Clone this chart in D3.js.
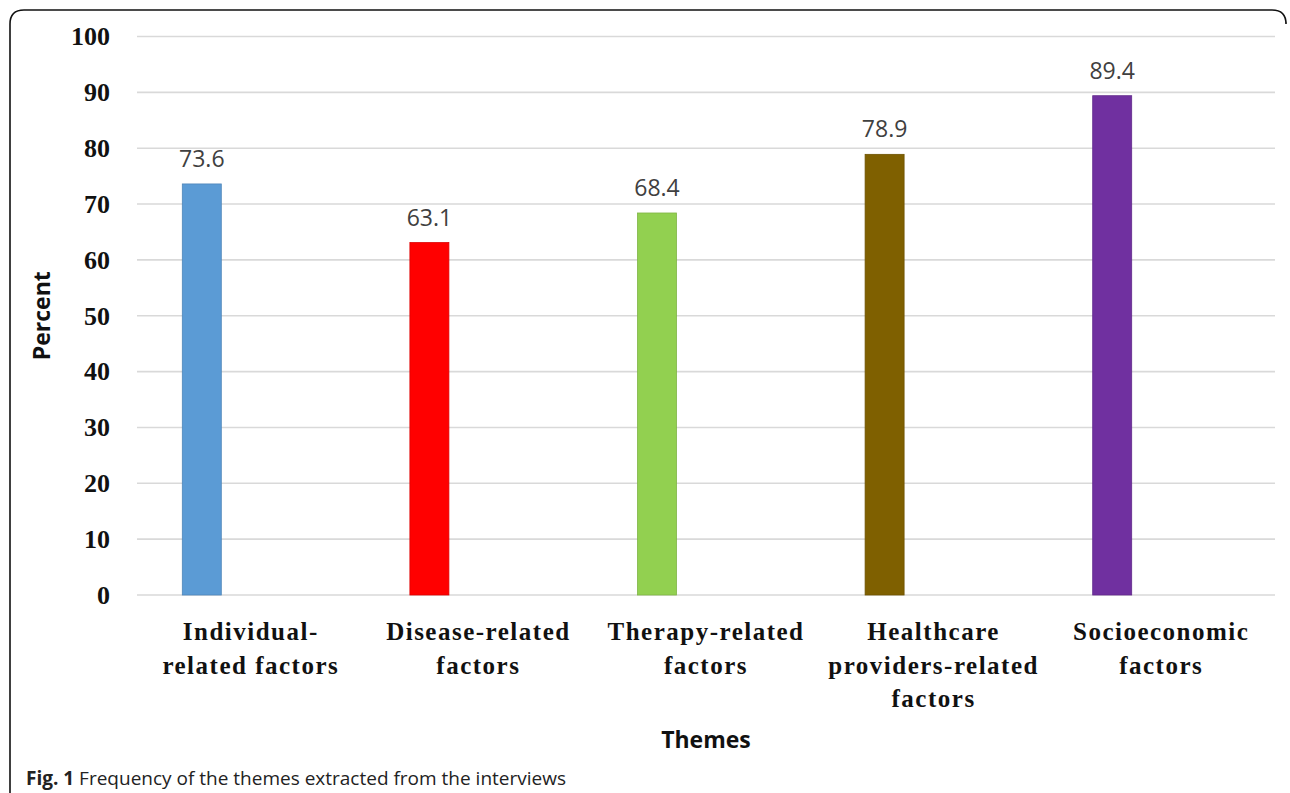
<!DOCTYPE html>
<html>
<head>
<meta charset="utf-8">
<script src="https://cdn.jsdelivr.net/npm/d3@7"></script>
<style>
  html, body { margin: 0; padding: 0; background: #fff; }
  svg { display: block; }
</style>
</head>
<body>
<div id="chart"></div>
<script>
// data
const categories = ["Individual-related factors", "Disease-related factors", "Therapy-related factors",
                    "Healthcare providers-related factors", "Socioeconomic factors"];
const percents = [73.6, 63.1, 68.4, 78.9, 89.4];
const barColors = ["#5b9bd5", "#ff0000", "#92d050", "#7f6000", "#7030a0"];
const labelLines = [
  ["Individual-", "related factors"],
  ["Disease-related", "factors"],
  ["Therapy-related", "factors"],
  ["Healthcare", "providers-related", "factors"],
  ["Socioeconomic", "factors"]
];
const yTicks = [0, 10, 20, 30, 40, 50, 60, 70, 80, 90, 100];

const W = 1290, H = 793;
const plot = {left: 137, right: 1275, top: 36.5, bottom: 595};
const barWidth = 39, barShift = -49;

const svg = d3.select("#chart").append("svg")
  .attr("width", W)
  .attr("height", H);

// outer frame (rounded top corners, cut off at the bottom)
const r = 14;
svg.append("path")
  .attr("d", `M10,${H} L10,${10 + r} Q10,10 ${10 + r},10 L${1286 - r},10 Q1286,10 1286,${10 + r} L1286,22`)
  .attr("fill", "none")
  .attr("stroke", "#111")
  .attr("stroke-width", 1.6);

const x = d3.scaleBand()
  .domain(categories)
  .range([plot.left, plot.right]);

const y = d3.scaleLinear()
  .domain([0, 100])
  .range([plot.bottom, plot.top]);

// gridlines
svg.append("g")
  .selectAll("line")
  .data(yTicks)
  .join("line")
    .attr("x1", plot.left)
    .attr("x2", plot.right)
    .attr("y1", d => y(d))
    .attr("y2", d => y(d))
    .attr("stroke", "#d9d9d9")
    .attr("stroke-width", 1.6);

// y axis labels
const yAxis = svg.append("g")
  .attr("transform", `translate(${plot.left},0)`)
  .call(d3.axisLeft(y).tickValues(yTicks).tickSize(0).tickPadding(27));
yAxis.select(".domain").remove();
yAxis.selectAll("text")
  .attr("font-family", "'Liberation Serif', 'Times New Roman', serif")
  .attr("font-weight", "bold")
  .attr("font-size", 26)
  .attr("fill", "#111");

// bars
const barX = d => x(d) + x.bandwidth() / 2 + barShift;
svg.append("g")
  .selectAll("rect")
  .data(categories)
  .join("rect")
    .attr("x", d => barX(d) - barWidth / 2)
    .attr("y", (d, i) => y(percents[i]))
    .attr("width", barWidth)
    .attr("height", (d, i) => y(0) - y(percents[i]))
    .attr("fill", (d, i) => barColors[i])
    .attr("stroke", (d, i) => d3.color(barColors[i]).darker(0.4))
    .attr("stroke-width", 0.8);

// value labels
svg.append("g")
  .selectAll("text")
  .data(categories)
  .join("text")
    .attr("x", d => barX(d))
    .attr("y", (d, i) => y(percents[i]) - 17)
    .attr("text-anchor", "middle")
    .attr("font-family", "'Open Sans', sans-serif")
    .attr("font-size", 23)
    .attr("fill", "#404040")
    .text((d, i) => percents[i].toFixed(1));

// category labels
const catG = svg.append("g")
  .selectAll("text")
  .data(categories)
  .join("text")
    .attr("text-anchor", "middle")
    .attr("font-family", "'Liberation Serif', 'Times New Roman', serif")
    .attr("font-weight", "bold")
    .attr("font-size", 25)
    .attr("letter-spacing", 1.5)
    .attr("fill", "#111");
catG.selectAll("tspan")
  .data((d, i) => labelLines[i].map(t => ({t, c: d})))
  .join("tspan")
    .attr("x", d => x(d.c) + x.bandwidth() / 2)
    .attr("y", (d, j) => 640 + j * 33.5)
    .text(d => d.t);

// axis titles
svg.append("text")
  .attr("x", (plot.left + plot.right) / 2)
  .attr("y", 748)
  .attr("text-anchor", "middle")
  .attr("font-family", "'Open Sans', sans-serif")
  .attr("font-weight", "bold")
  .attr("font-size", 23)
  .attr("fill", "#111")
  .text("Themes");

svg.append("text")
  .attr("transform", `translate(50,${(plot.top + plot.bottom) / 2}) rotate(-90)`)
  .attr("text-anchor", "middle")
  .attr("font-family", "'Open Sans', sans-serif")
  .attr("font-weight", "bold")
  .attr("font-size", 23)
  .attr("fill", "#111")
  .text("Percent");

// caption
const cap = svg.append("text")
  .attr("x", 26)
  .attr("y", 785)
  .attr("font-family", "'Open Sans', sans-serif")
  .attr("font-size", 19)
  .attr("fill", "#222");
cap.append("tspan").attr("font-weight", "bold").text("Fig. 1");
cap.append("tspan").text(" Frequency of the themes extracted from the interviews");
</script>
</body>
</html>
